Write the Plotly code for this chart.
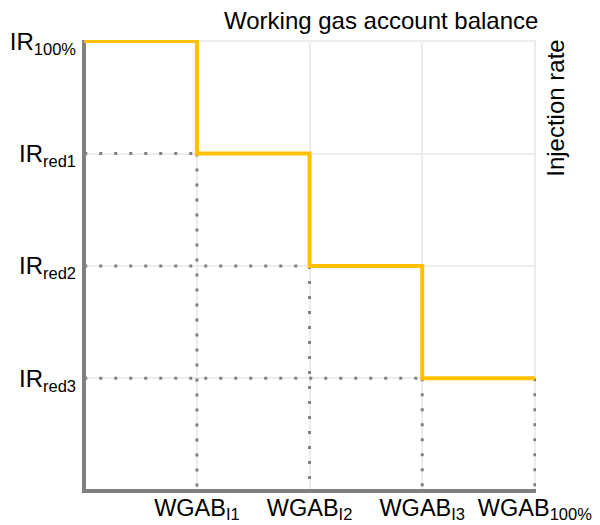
import plotly.graph_objects as go

# Data
SUB = "<sub><span style='font-size:16.5px'>{}</span></sub>"
wgab_labels = ["WGAB" + SUB.format("I1"), "WGAB" + SUB.format("I2"),
               "WGAB" + SUB.format("I3"), "WGAB" + SUB.format("100%")]
wgab_vals = [1, 2, 3, 4]
ir_labels = ["IR" + SUB.format("red3"), "IR" + SUB.format("red2"),
             "IR" + SUB.format("red1"), "IR" + SUB.format("100%")]
ir_vals = [1, 2, 3, 4]

# step curve: injection rate as function of working gas account balance
step_x = [0, 1, 2, 3, 4]
step_y = [4, 3, 2, 1, 1]

# dotted guide lines (from each step corner to the axes)
guide_x, guide_y = [], []
for xv, yv in zip(step_x[1:], step_y[1:]):
    if xv < 4:
        guide_x += [0, xv, None]
        guide_y += [yv, yv, None]
    guide_x += [xv, xv, None]
    guide_y += [yv, 0, None]

FONT = "Liberation Sans, Arial, sans-serif"
GRAY = "#808080"

fig = go.Figure()
fig.add_trace(go.Scatter(x=guide_x, y=guide_y, mode="lines",
                         line=dict(color=GRAY, width=3, dash="3px,12px"),
                         hoverinfo="skip", cliponaxis=False))
fig.add_trace(go.Scatter(x=step_x, y=step_y, mode="lines", line_shape="hv",
                         line=dict(color="#FFC000", width=4), cliponaxis=False))

fig.update_layout(
    width=600, height=525,
    margin=dict(l=74, r=72, t=31.5, b=39.5),
    plot_bgcolor="white", paper_bgcolor="white",
    showlegend=False,
    font=dict(family=FONT, size=24, color="black"),
    xaxis=dict(range=[-0.02, 4.01], tickvals=wgab_vals, ticktext=wgab_labels,
               showgrid=True, gridcolor="#ececec", gridwidth=2,
               zeroline=True, zerolinecolor=GRAY, zerolinewidth=4,
               showline=False, ticks="", tickfont=dict(size=23.5),
               automargin=False, ticklabelstandoff=-2),
    yaxis=dict(range=[-0.02, 4.01], tickvals=ir_vals, ticktext=ir_labels,
               showgrid=True, gridcolor="#ececec", gridwidth=2,
               zeroline=True, zerolinecolor=GRAY, zerolinewidth=4,
               showline=False, ticks="", tickfont=dict(size=24),
               automargin=False, ticklabelstandoff=5),
    annotations=[
        dict(text="Working gas account balance", xref="paper", yref="paper",
             x=1.008, y=1.044, xanchor="right", yanchor="middle", showarrow=False,
             font=dict(size=24)),
        dict(text="Injection rate", xref="paper", yref="paper",
             x=1.044, y=1.006, xanchor="center", yanchor="top", textangle=-90,
             showarrow=False, font=dict(size=24)),
    ],
)

fig.write_html("out.html")
